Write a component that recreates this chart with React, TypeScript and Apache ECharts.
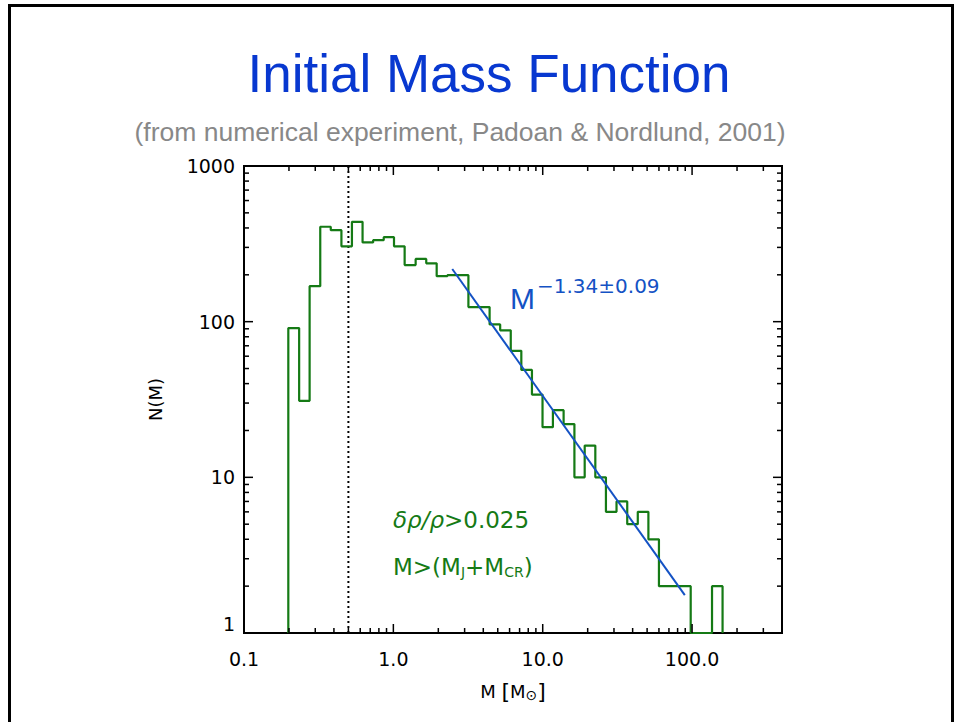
import React, { useEffect, useRef } from 'react';
import * as echarts from 'echarts';

// Histogram bin edges (stellar mass, solar masses), equal widths in log M
const binEdges = [
  0.198, 0.234, 0.275, 0.324, 0.381, 0.449, 0.528, 0.622, 0.732, 0.862,
  1.01, 1.19, 1.41, 1.66, 1.95, 2.30, 2.70, 3.18, 3.75, 4.41,
  5.19, 6.11, 7.19, 8.47, 9.97, 11.7, 13.8, 16.3, 19.1, 22.5,
  26.5, 31.2, 36.8, 43.3, 51.0, 60.0, 70.6, 83.2, 97.9, 115,
  136, 160,
];
// Number of objects per bin N(M)
const counts = [
  91, 31, 169, 407, 387, 305, 438, 323, 334, 349,
  305, 231, 253, 237, 196, 199, 199, 124, 124, 96,
  88, 65, 49, 34, 21, 27, 22, 10, 16, 10,
  6, 7, 5, 6, 4, 2, 2, 2, 0, 0,
  2,
];
// Power-law fit N ~ M^-1.34 : end points
const fitMass = [2.48, 89.4];
const fitN = [218, 1.75];
// Vertical dotted cut-off
const cutoffMass = 0.5;

// Axes
const xRange = [0.1, 400];
const yRange = [1, 1000];
const xDecades = [0.1, 1, 10, 100];
const xTickLabels = ['0.1', '1.0', '10.0', '100.0'];
const yDecades = [1, 10, 100, 1000];
const yTickLabels = ['1', '10', '100', '1000'];
const minorSteps = [2, 3, 4, 5, 6, 7, 8, 9];

const GREEN = '#157a15';
const BLUE = '#1452c4';
const PLOT_FONT = '"DejaVu Sans", "Liberation Sans", sans-serif';
const SANS = '"Liberation Sans", Arial, Helvetica, sans-serif';

const lg = Math.log10;

export default function App() {
  const ref = useRef<HTMLDivElement>(null);

  useEffect(() => {
    if (!ref.current) return;
    const chart = echarts.init(ref.current, undefined, { renderer: 'svg' });

    const yMinLog = lg(yRange[0]);
    const clampN = (n: number) => lg(Math.max(n, yRange[0]));

    // step outline of the histogram
    const histData: number[][] = [[lg(binEdges[0]), yMinLog]];
    counts.forEach((c, i) => {
      histData.push([lg(binEdges[i]), clampN(c)]);
      histData.push([lg(binEdges[i + 1]), clampN(c)]);
    });
    histData.push([lg(binEdges[binEdges.length - 1]), yMinLog]);

    const fitData = fitMass.map((m, i) => [lg(m), lg(fitN[i])]);
    const cutoffData = [
      [lg(cutoffMass), lg(yRange[0])],
      [lg(cutoffMass), lg(yRange[1])],
    ];

    // tick marks: [x, y, axis(0=x,1=y), major]
    const tickData: number[][] = [];
    xDecades.forEach((d) => {
      tickData.push([lg(d), yMinLog, 0, 1]);
      minorSteps.forEach((s) => {
        const v = d * s;
        if (v < xRange[1]) tickData.push([lg(v), yMinLog, 0, 0]);
      });
    });
    yDecades.forEach((d) => {
      tickData.push([lg(xRange[0]), lg(d), 1, 1]);
      minorSteps.forEach((s) => {
        const v = d * s;
        if (v < yRange[1]) tickData.push([lg(xRange[0]), lg(v), 1, 0]);
      });
    });

    const xLabel = (v: number) => {
      const i = xDecades.findIndex((d) => Math.abs(lg(d) - v) < 1e-6);
      return i >= 0 ? xTickLabels[i] : '';
    };
    const yLabel = (v: number) => {
      const i = yDecades.findIndex((d) => Math.abs(lg(d) - v) < 1e-6);
      return i >= 0 ? yTickLabels[i] : '';
    };

    const option: any = {
      animation: false,
      backgroundColor: '#ffffff',
      grid: {
        left: 244,
        right: 176,
        top: 166,
        bottom: 89,
        show: true,
        borderColor: '#000',
        borderWidth: 2,
        backgroundColor: 'transparent',
      },
      xAxis: {
        type: 'value',
        min: lg(xRange[0]),
        max: lg(xRange[1]),
        interval: 1,
        axisLine: { show: false },
        axisTick: { show: false },
        splitLine: { show: false },
        axisLabel: {
          formatter: xLabel,
          margin: 16,
          fontSize: 19,
          fontFamily: PLOT_FONT,
          color: '#000',
        },
        name: '{a|M }{b|[}{a|M}{s|⊙}{b|]}',
        nameLocation: 'middle',
        nameGap: 47,
        nameTextStyle: {
          rich: {
            a: { fontSize: 18, fontFamily: PLOT_FONT, color: '#000' },
            b: { fontSize: 22, fontFamily: PLOT_FONT, color: '#000' },
            s: { fontSize: 14, fontFamily: PLOT_FONT, color: '#000', verticalAlign: 'bottom' },
          },
        },
      },
      yAxis: {
        type: 'value',
        min: lg(yRange[0]),
        max: lg(yRange[1]),
        interval: 1,
        axisLine: { show: false },
        axisTick: { show: false },
        splitLine: { show: false },
        axisLabel: {
          formatter: yLabel,
          margin: 9,
          fontSize: 19,
          fontFamily: PLOT_FONT,
          color: '#000',
          verticalAlignMinLabel: 'bottom',
        },
        name: 'N(M)',
        nameLocation: 'middle',
        nameGap: 80,
        nameRotate: 90,
        nameTextStyle: { fontSize: 18, fontFamily: PLOT_FONT, color: '#000' },
      },
      series: [
        {
          type: 'line',
          name: 'cutoff',
          data: cutoffData,
          symbol: 'none',
          lineStyle: { color: '#000', width: 2, type: [2, 3] },
          silent: true,
          z: 2,
        },
        {
          type: 'line',
          name: 'N(M)',
          data: histData,
          symbol: 'none',
          clip: false,
          lineStyle: { color: GREEN, width: 2.2 },
          silent: true,
          z: 3,
        },
        {
          type: 'line',
          name: 'fit',
          data: fitData,
          symbol: 'none',
          lineStyle: { color: BLUE, width: 2 },
          silent: true,
          z: 4,
        },
        {
          type: 'custom',
          name: 'ticks',
          data: tickData,
          silent: true,
          clip: false,
          z: 5,
          renderItem: (params: any, api: any) => {
            const cs = params.coordSys;
            const axis = api.value(2);
            const major = api.value(3);
            const len = major ? 9 : 5;
            const style = { stroke: '#000', lineWidth: 1.5 };
            if (axis === 0) {
              const px = api.coord([api.value(0), yMinLog])[0];
              return {
                type: 'group',
                children: [
                  { type: 'line', shape: { x1: px, y1: cs.y + cs.height, x2: px, y2: cs.y + cs.height - len }, style },
                  { type: 'line', shape: { x1: px, y1: cs.y, x2: px, y2: cs.y + len }, style },
                ],
              };
            }
            const py = api.coord([lg(xRange[0]), api.value(1)])[1];
            return {
              type: 'group',
              children: [
                { type: 'line', shape: { x1: cs.x, y1: py, x2: cs.x + len, y2: py }, style },
                { type: 'line', shape: { x1: cs.x + cs.width, y1: py, x2: cs.x + cs.width - len, y2: py }, style },
              ],
            };
          },
        },
      ],
      graphic: [
        {
          type: 'rect',
          shape: { x: 9.5, y: 5.5, width: 943, height: 740 },
          style: { fill: 'none', stroke: '#000', lineWidth: 3 },
          silent: true,
        },
        {
          type: 'text',
          x: 489,
          y: 73,
          style: {
            text: 'Initial Mass Function',
            align: 'center',
            verticalAlign: 'middle',
            fontSize: 53,
            fontFamily: SANS,
            fill: '#0838d0',
          },
        },
        {
          type: 'text',
          x: 460,
          y: 132,
          style: {
            text: '(from numerical experiment, Padoan & Nordlund, 2001)',
            align: 'center',
            verticalAlign: 'middle',
            fontSize: 26.5,
            fontFamily: SANS,
            fill: '#888888',
          },
        },
        {
          type: 'text',
          x: 510,
          y: 298,
          style: {
            text: 'M',
            align: 'left',
            verticalAlign: 'middle',
            fontSize: 30,
            fontFamily: SANS,
            fill: BLUE,
          },
        },
        {
          type: 'text',
          x: 537,
          y: 286,
          style: {
            text: '−1.34±0.09',
            align: 'left',
            verticalAlign: 'middle',
            fontSize: 20,
            fontFamily: PLOT_FONT,
            fill: BLUE,
          },
        },
        {
          type: 'text',
          x: 393,
          y: 520,
          style: {
            text: '{i|δρ/ρ}{n|>0.025}',
            align: 'left',
            verticalAlign: 'middle',
            rich: {
              i: { fontSize: 23, fontFamily: PLOT_FONT, fontStyle: 'italic', fill: GREEN },
              n: { fontSize: 23, fontFamily: PLOT_FONT, fill: GREEN },
            },
          },
        },
        {
          type: 'text',
          x: 393,
          y: 567,
          style: {
            text: '{n|M>(M}{s|J}{n|+M}{s|CR}{n|)}',
            align: 'left',
            verticalAlign: 'middle',
            rich: {
              n: { fontSize: 23, fontFamily: PLOT_FONT, fill: GREEN },
              s: { fontSize: 14, fontFamily: PLOT_FONT, fill: GREEN, verticalAlign: 'bottom' },
            },
          },
        },
      ],
    };

    chart.setOption(option);
    return () => chart.dispose();
  }, []);

  return (
    <div
      ref={ref}
      style={{ position: 'absolute', left: 0, top: 0, width: 958, height: 722, background: '#fff' }}
    />
  );
}
